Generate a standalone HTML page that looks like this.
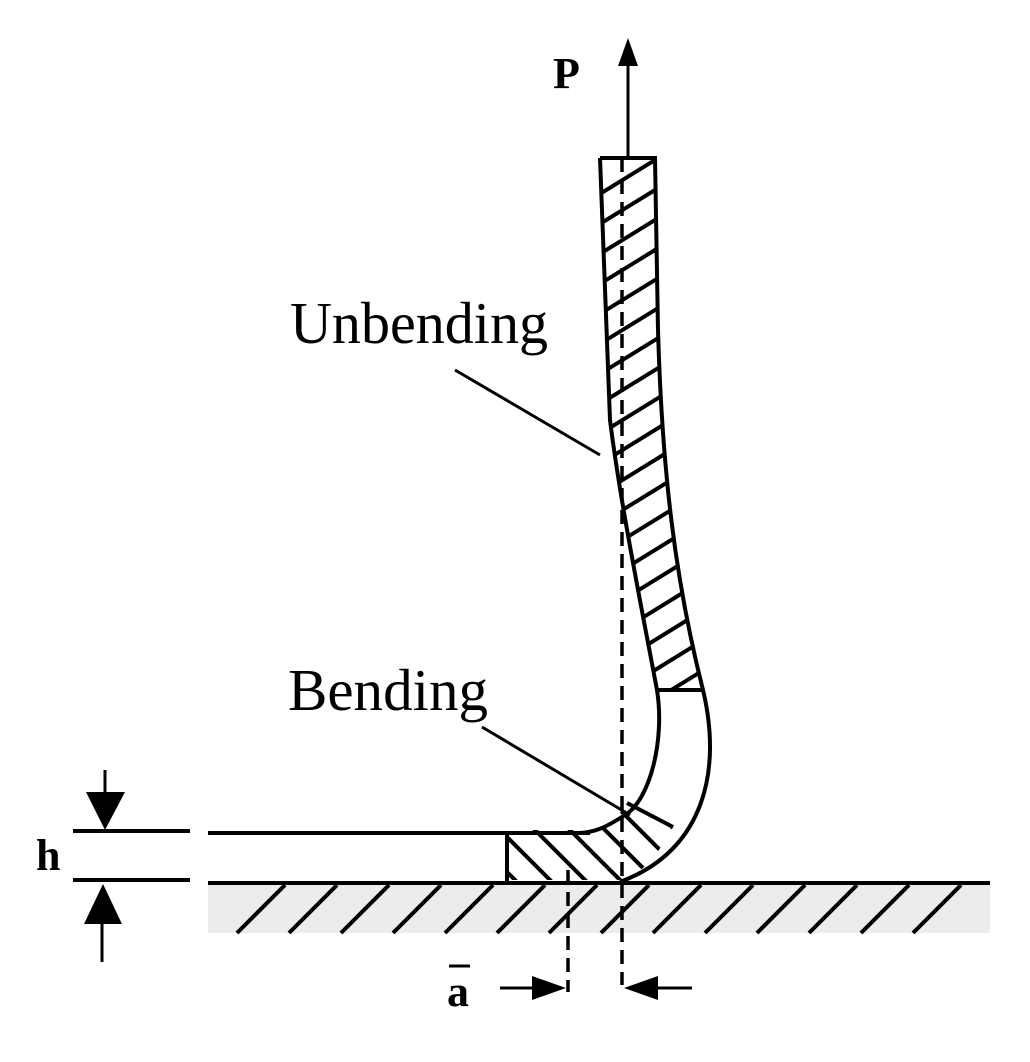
<!DOCTYPE html><html><head><style>body{margin:0;background:#fff}svg{display:block}</style></head><body>
<svg width="1030" height="1062" viewBox="0 0 1030 1062" xmlns="http://www.w3.org/2000/svg">
<defs>
<clipPath id="cu"><path d="M600,158 L655,158 L658,330 C662,470 675,580 703,690 L657,690 C640,600 620,500 610,420 Z"/></clipPath>
<clipPath id="cl"><path d="M627,803 L673,827 C655,860 640,875 620,880 L507,880 L507,830 L590,830 C605,828 618,818 627,803 Z"/></clipPath>
</defs>
<!-- ground -->
<rect x="208" y="885" width="782" height="48" fill="#ececec"/>
<g stroke="#000" stroke-width="4">
<line x1="285" y1="885" x2="237" y2="933"/><line x1="337" y1="885" x2="289" y2="933"/><line x1="389" y1="885" x2="341" y2="933"/><line x1="441" y1="885" x2="393" y2="933"/><line x1="493" y1="885" x2="445" y2="933"/><line x1="545" y1="885" x2="497" y2="933"/><line x1="597" y1="885" x2="549" y2="933"/><line x1="649" y1="885" x2="601" y2="933"/><line x1="701" y1="885" x2="653" y2="933"/><line x1="753" y1="885" x2="705" y2="933"/><line x1="805" y1="885" x2="757" y2="933"/><line x1="857" y1="885" x2="809" y2="933"/><line x1="909" y1="885" x2="861" y2="933"/><line x1="961" y1="885" x2="913" y2="933"/>
</g>
<line x1="208" y1="883" x2="990" y2="883" stroke="#000" stroke-width="4"/>
<line x1="208" y1="833" x2="590" y2="833" stroke="#000" stroke-width="4"/>
<!-- upper hatch -->
<g clip-path="url(#cu)" stroke="#000" stroke-width="4">
<line x1="590" y1="200" x2="720" y2="120"/><line x1="590" y1="230" x2="720" y2="150"/><line x1="590" y1="260" x2="720" y2="180"/><line x1="590" y1="290" x2="720" y2="210"/><line x1="590" y1="320" x2="720" y2="240"/><line x1="590" y1="350" x2="720" y2="270"/><line x1="590" y1="380" x2="720" y2="300"/><line x1="590" y1="410" x2="720" y2="330"/><line x1="590" y1="440" x2="720" y2="360"/><line x1="590" y1="470" x2="720" y2="390"/><line x1="590" y1="500" x2="720" y2="420"/><line x1="590" y1="530" x2="720" y2="450"/><line x1="590" y1="560" x2="720" y2="480"/><line x1="590" y1="590" x2="720" y2="510"/><line x1="590" y1="620" x2="720" y2="540"/><line x1="590" y1="650" x2="720" y2="570"/><line x1="590" y1="680" x2="720" y2="600"/><line x1="590" y1="710" x2="720" y2="630"/><line x1="590" y1="740" x2="720" y2="660"/><line x1="590" y1="770" x2="720" y2="690"/>
</g>
<!-- lower hatch -->
<g clip-path="url(#cl)" stroke="#000" stroke-width="4">
<line x1="470" y1="800" x2="570" y2="900"/><line x1="505" y1="800" x2="605" y2="900"/><line x1="540" y1="800" x2="640" y2="900"/><line x1="575" y1="800" x2="675" y2="900"/><line x1="610" y1="800" x2="710" y2="900"/><line x1="645" y1="800" x2="745" y2="900"/><line x1="435" y1="800" x2="535" y2="900"/>
</g>
<!-- strip outline -->
<g fill="none" stroke="#000" stroke-width="4">
<path d="M600,158 L655,158 L658,330 C662,470 675,580 703,690 C722,770 705,850 620,882"/>
<path d="M600,158 L610,420 C620,500 640,600 657,690 C665,740 650,800 625,815 C605,828 595,832 580,833"/>
<line x1="657" y1="690" x2="703" y2="690"/>
<line x1="627" y1="803" x2="673" y2="827"/>
<line x1="507" y1="833" x2="507" y2="883"/>
</g>
<!-- dashed -->
<line x1="622" y1="158" x2="622" y2="985" stroke="#000" stroke-width="3.5" stroke-dasharray="14,8"/>
<line x1="568" y1="870" x2="568" y2="992" stroke="#000" stroke-width="3.5" stroke-dasharray="14,8"/>
<!-- P arrow -->
<line x1="628" y1="158" x2="628" y2="60" stroke="#000" stroke-width="3"/>
<polygon points="628,38 618,66 638,66" fill="#000"/>
<text x="553" y="88" font-family="Liberation Serif, serif" font-weight="bold" font-size="44">P</text>
<!-- labels -->
<text x="290" y="343" font-family="Liberation Serif, serif" font-size="59" textLength="258" lengthAdjust="spacingAndGlyphs">Unbending</text>
<line x1="455" y1="370" x2="600" y2="455" stroke="#000" stroke-width="3"/>
<text x="288" y="710" font-family="Liberation Serif, serif" font-size="59" textLength="200" lengthAdjust="spacingAndGlyphs">Bending</text>
<line x1="482" y1="727" x2="630" y2="815" stroke="#000" stroke-width="3"/>
<!-- h dimension -->
<g stroke="#000" stroke-width="4"><line x1="73" y1="831" x2="190" y2="831"/><line x1="73" y1="880" x2="190" y2="880"/></g>
<line x1="105" y1="770" x2="105" y2="800" stroke="#000" stroke-width="3"/>
<polygon points="86,792 125,792 105,830" fill="#000"/>
<line x1="102" y1="915" x2="102" y2="962" stroke="#000" stroke-width="3"/>
<polygon points="84,924 122,924 103,884" fill="#000"/>
<text x="36" y="870" font-family="Liberation Serif, serif" font-weight="bold" font-size="44">h</text>
<!-- a dimension -->
<line x1="500" y1="988" x2="540" y2="988" stroke="#000" stroke-width="3"/>
<polygon points="566,988 532,976 532,1000" fill="#000"/>
<line x1="650" y1="988" x2="692" y2="988" stroke="#000" stroke-width="3"/>
<polygon points="624,988 658,976 658,1000" fill="#000"/>
<text x="447" y="1006" font-family="Liberation Serif, serif" font-weight="bold" font-size="44">a</text>
<line x1="449" y1="966" x2="470" y2="966" stroke="#000" stroke-width="3"/>
</svg>
</body></html>
